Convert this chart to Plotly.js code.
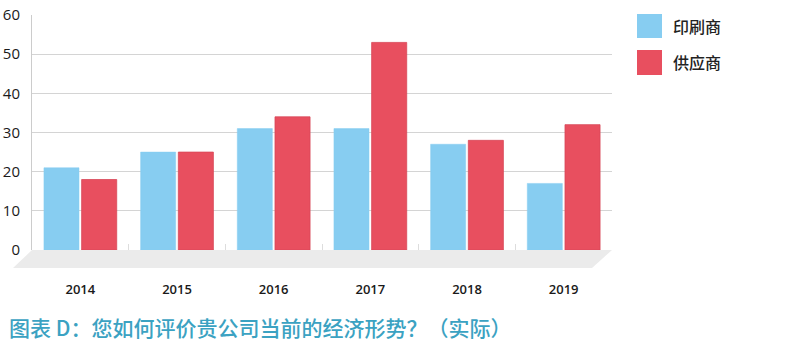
<!DOCTYPE html>
<html><head><meta charset="utf-8">
<script src="https://cdn.plot.ly/plotly-3.0.1.min.js"></script>
<style>body{margin:0;background:#fff}</style>
</head><body><div id="chart" style="width:810px;height:351px"></div>
<script>
const years = ['2014','2015','2016','2017','2018','2019'];
const printers = [21, 25, 31, 31, 27, 17];
const suppliers = [18, 25, 34, 53, 28, 32];
const seriesNames = ['印刷商', '供应商'];
const yTicks = [0, 10, 20, 30, 40, 50, 60];
const titleText = '图表 D：您如何评价贵公司当前的经济形势？（实际）';

const colors = ['#87cdf1', '#e84f5f'];
const lineColors = ['#87cdf1', '#d84858'];

const traces = [
  {type:'bar', x: years, y: printers, name: seriesNames[0], marker:{color:colors[0], line:{color:lineColors[0], width:0.5}}},
  {type:'bar', x: years, y: suppliers, name: seriesNames[1], marker:{color:colors[1], line:{color:lineColors[1], width:0.8}}}
];

const plotL = 32, plotR = 612, plotT = 15, plotB = 250;
const W = 810, H = 351;
const pw = plotR - plotL, ph = plotB - plotT;
const px = v => (v - plotL) / pw;
const py = v => (plotB - v) / ph;

const shapes = [
  {type:'path', xref:'paper', yref:'paper', layer:'below',
   path:`M ${px(32)} ${py(250)} L ${px(612)} ${py(250)} L ${px(592)} ${py(268)} L ${px(13)} ${py(268)} Z`,
   fillcolor:'#ebebeb', line:{width:0}},
  {type:'rect', xref:'paper', yref:'paper', x0:px(637), x1:px(662), y0:py(38), y1:py(14), fillcolor:colors[0], line:{width:0}},
  {type:'rect', xref:'paper', yref:'paper', x0:px(637), x1:px(662), y0:py(75), y1:py(50), fillcolor:colors[1], line:{width:0}}
];

const annotations = [
  {xref:'paper', yref:'paper', x:px(671), y:py(26), xanchor:'left', yanchor:'middle', text:seriesNames[0], showarrow:false, font:{size:16, color:'#222', family:'Noto Sans CJK SC', weight:500}},
  {xref:'paper', yref:'paper', x:px(671), y:py(62), xanchor:'left', yanchor:'middle', text:seriesNames[1], showarrow:false, font:{size:16, color:'#222', family:'Noto Sans CJK SC', weight:500}},
  {xref:'paper', yref:'paper', x:px(7), y:py(327), xanchor:'left', yanchor:'middle', text:titleText, showarrow:false, font:{size:21, color:'#3ba2c2', family:'Noto Sans CJK SC', weight:500}}
];

const layout = {
  width: W, height: H,
  margin:{l:plotL, r:W - plotR, t:plotT, b:H - plotB, pad:0},
  paper_bgcolor:'#fff', plot_bgcolor:'rgba(0,0,0,0)',
  barmode:'group', bargap:0.22, bargroupgap:0.07,
  showlegend:false,
  font:{family:'Open Sans, sans-serif', color:'#222'},
  xaxis:{type:'category', showgrid:false, zeroline:false, showline:false,
    ticks:'inside', tickson:'boundaries', ticklen:6, tickcolor:'#dddddd', tickwidth:1,
    ticklabelstandoff:30, tickfont:{size:13, color:'#1a1a1a', family:'Open Sans', weight:600}, fixedrange:true},
  yaxis:{range:[0,60], tickvals:yTicks, showgrid:true, gridcolor:'#d4d4d4', gridwidth:1,
    zeroline:false, showline:true, linecolor:'#cccccc', linewidth:1, ticks:'',
    ticklabelstandoff:8, tickfont:{size:15, color:'#1a1a1a', family:'Open Sans', weight:500}},
  shapes, annotations
};

Plotly.newPlot('chart', traces, layout, {displayModeBar:false, staticPlot:true});
</script></body></html>
